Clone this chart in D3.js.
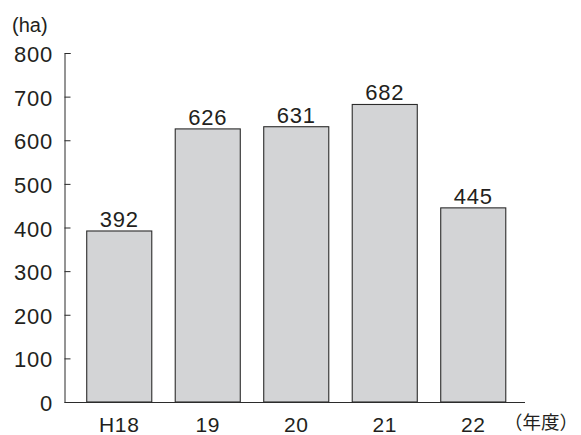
<!DOCTYPE html>
<html><head><meta charset="utf-8">
<script src="https://cdn.jsdelivr.net/npm/d3@7"></script>
<style>body{margin:0;background:#fff}svg{display:block}text{font-family:"Liberation Sans",Arial,sans-serif;fill:#231f20}</style>
</head><body>
<svg id="c" width="581" height="435"></svg>
<script>
const categories = ["H18","19","20","21","22"];
const values = [392,626,631,682,445];
const yTicks = [0,100,200,300,400,500,600,700,800];

const svg = d3.select("#c");
const x = d3.scaleBand().domain(categories).range([75,517.5]).paddingInner(0.265).paddingOuter(0.1325);
const y = d3.scaleLinear().domain([0,800]).range([402,53]);

// bars
svg.selectAll("rect.bar").data(values).join("rect")
  .attr("x",(d,i)=>x(categories[i])).attr("y",d=>y(d))
  .attr("width",x.bandwidth()).attr("height",d=>y(0)-y(d))
  .attr("fill","#d3d4d6").attr("stroke","#2b2b2b").attr("stroke-width",1.1);

// value labels
svg.selectAll("text.val").data(values).join("text")
  .attr("x",(d,i)=>x(categories[i])+x.bandwidth()/2).attr("y",d=>y(d)-4)
  .attr("text-anchor","middle").attr("font-size",22).attr("letter-spacing",0.8).text(d=>d);

// y axis
const ya = svg.append("g").attr("transform","translate(64.5,0)")
  .call(d3.axisRight(y).tickValues(yTicks).tickSize(6).tickFormat(""));
ya.select(".domain").attr("stroke","#2b2b2b").attr("d","M6,53.5H0.5V402");
ya.selectAll(".tick line").attr("stroke","#2b2b2b");
svg.selectAll("text.yl").data(yTicks).join("text")
  .attr("x",53).attr("y",d=>y(d)+9).attr("text-anchor","end").attr("font-size",22).attr("letter-spacing",0.8).text(d=>d);

// x axis
const xa = svg.append("g").attr("transform","translate(0,402)")
  .call(d3.axisBottom(x).tickSize(0).tickPadding(15));
xa.select(".domain").attr("stroke","#2b2b2b").attr("d","M64.5,0.5H525");
xa.selectAll("text").attr("font-size",21).attr("letter-spacing",0.6).attr("fill","#231f20").attr("font-family","Liberation Sans, Arial, sans-serif");

svg.append("text").attr("x",12).attr("y",32).attr("font-size",20).text("(ha)");
svg.append("text").attr("x",504).attr("y",429).attr("font-size",18.5)
  .style("font-family","'Noto Sans CJK JP',sans-serif").text("（年度）");
</script>
</body></html>
